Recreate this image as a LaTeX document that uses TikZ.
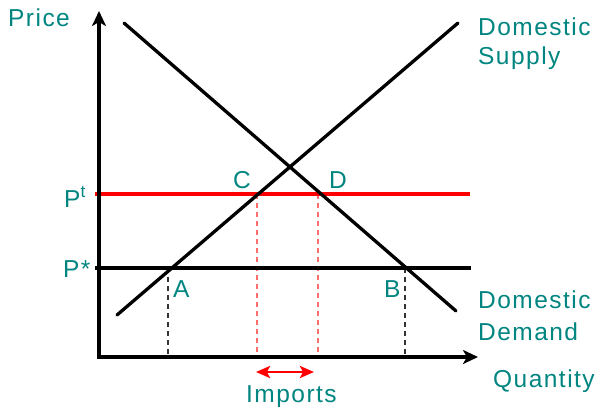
\documentclass[tikz,border=0pt]{standalone}
\usepackage{fontspec}
\setmainfont{Liberation Sans}[LetterSpace=6]
\usetikzlibrary{arrows.meta}
\definecolor{tealtxt}{RGB}{0,133,128}
\definecolor{lightred}{RGB}{255,110,110}
\begin{document}
\begin{tikzpicture}[x=1pt,y=-1pt,
  lbl/.style={text=tealtxt,font=\fontsize{24.5}{28}\selectfont,inner sep=0pt,anchor=base west},
  curveline/.style={line width=3.3pt,line cap=round},
  axisline/.style={line width=3.3pt,{Stealth[length=15pt,width=14pt,inset=4pt]}-{Stealth[length=15pt,width=14pt,inset=4pt]}},
  guide/.style={line width=1.2pt,dash pattern=on 5pt off 4pt},
  dblarrow/.style={red,line width=2.7pt,{Stealth[length=14pt,width=12pt,inset=3pt]}-{Stealth[length=14pt,width=12pt,inset=3pt]}}]
\useasboundingbox (0,0) rectangle (602,408);
% coordinates
\coordinate (ytop) at (99,11);
\coordinate (O) at (99,357);
\coordinate (xend) at (478,357);
\coordinate (d1) at (124,23);
\coordinate (d2) at (456,311);
\coordinate (s1) at (117,315);
\coordinate (s2) at (458,23);
\coordinate (pt1) at (95,194);
\coordinate (pt2) at (470,194);
\coordinate (ps1) at (95,268);
\coordinate (ps2) at (471,268);
\coordinate (A) at (168,268);
\coordinate (Ab) at (168,357);
\coordinate (C) at (257,194);
\coordinate (Cb) at (257,357);
\coordinate (D) at (318,194);
\coordinate (Db) at (318,357);
\coordinate (B) at (405,268);
\coordinate (Bb) at (405,357);
\coordinate (im1) at (256,372);
\coordinate (im2) at (314,372);
% guides
\draw[guide,black!80] (A) -- (Ab);
\draw[guide,black!80] (B) -- (Bb);
\draw[guide,lightred] (C) -- (Cb);
\draw[guide,lightred] (D) -- (Db);
% price lines
\draw[line width=3.3pt,red] (pt1) -- (pt2);
\draw[line width=3.3pt] (ps1) -- (ps2);
% curves
\draw[curveline] (d1) -- (d2);
\draw[curveline] (s1) -- (s2);
% axes
\draw[axisline] (ytop) -- (O) -- (xend);
% imports arrow
\draw[dblarrow] (im1) -- (im2);
% labels
\node[lbl] (price) at (8,26) {Price};
\node[lbl] (ptl) at (64,207) {P\textsuperscript{t}};
\node[lbl] (psl) at (63,277) {P*};
\node[lbl] (cl) at (233,188) {C};
\node[lbl] (dl) at (329,188) {D};
\node[lbl] (al) at (173,297) {A};
\node[lbl] (bl) at (384,297) {B};
\node[lbl] (ds1) at (478,35) {Domestic};
\node[lbl] (ds2) at (478,64) {Supply};
\node[lbl] (dd1) at (478,308) {Domestic};
\node[lbl] (dd2) at (478,340) {Demand};
\node[lbl] (qty) at (493,387) {Quantity};
\node[lbl] (imp) at (246,402) {Imports};
\end{tikzpicture}
\end{document}
